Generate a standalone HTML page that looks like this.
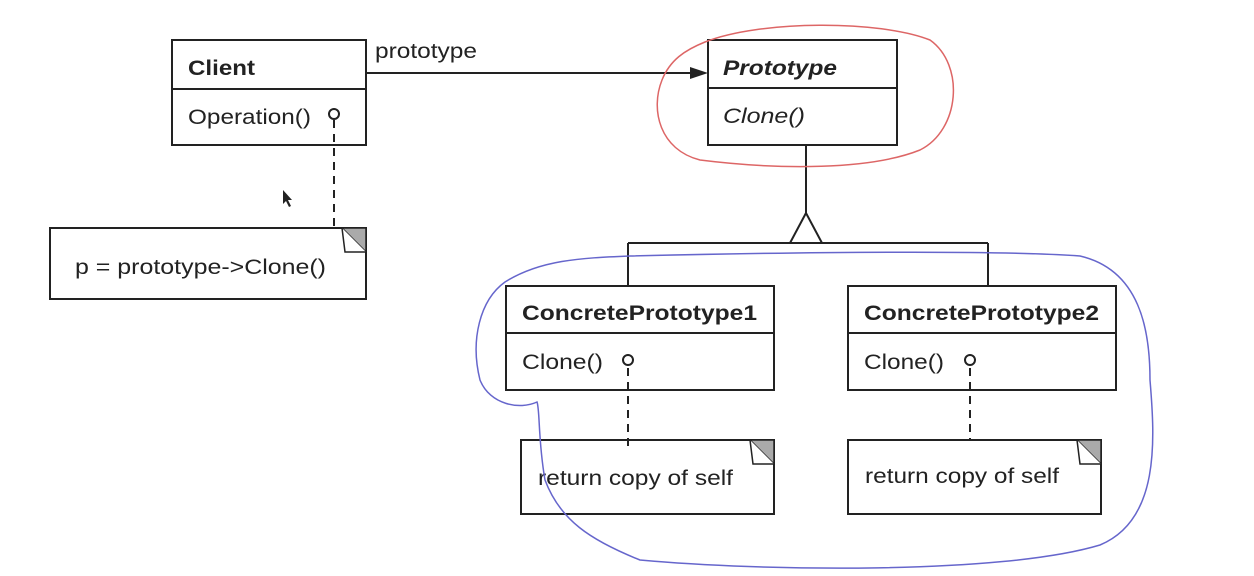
<!DOCTYPE html>
<html><head><style>
body{margin:0;background:#fff;}
svg text{font-family:"Liberation Sans",sans-serif;font-size:21px;fill:#222;}
</style></head><body>
<svg width="1254" height="571" viewBox="0 0 1254 571" xmlns="http://www.w3.org/2000/svg">
<g stroke="#222" stroke-width="2" fill="none">
<rect x="172" y="40" width="194" height="105"/><line x1="172" y1="89" x2="366" y2="89"/>
<rect x="708" y="40" width="189" height="105"/><line x1="708" y1="88" x2="897" y2="88"/>
<line x1="366" y1="73" x2="694" y2="73"/>
<line x1="334" y1="120" x2="334" y2="228" stroke-dasharray="8,6"/>
<rect x="50" y="228" width="316" height="71"/>
<line x1="806" y1="145" x2="806" y2="215"/>
<polygon points="806,213 790,243 822,243" fill="#fff"/>
<line x1="628" y1="243" x2="988" y2="243"/>
<line x1="628" y1="243" x2="628" y2="286"/>
<line x1="988" y1="243" x2="988" y2="286"/>
<rect x="506" y="286" width="268" height="104"/><line x1="506" y1="333" x2="774" y2="333"/>
<rect x="848" y="286" width="268" height="104"/><line x1="848" y1="333" x2="1116" y2="333"/>
<line x1="628" y1="368" x2="628" y2="450" stroke-dasharray="8,6"/>
<line x1="970" y1="368" x2="970" y2="440" stroke-dasharray="8,6"/>
<rect x="521" y="440" width="253" height="74"/>
<rect x="848" y="440" width="253" height="74"/>
</g>
<polygon points="690,67 708,73 690,79" fill="#222"/>
<g stroke="#222" stroke-width="2" fill="#fff">
<circle cx="334" cy="114" r="5"/><circle cx="628" cy="360" r="5"/><circle cx="970" cy="360" r="5"/>
</g>
<g stroke="#222" stroke-width="1.5">
<polygon points="342,228 366,228 366,252" fill="#aaa"/><polyline points="342,228 345,252 366,252" fill="#fff"/>
<polygon points="750,440 774,440 774,464" fill="#aaa"/><polyline points="750,440 753,464 774,464" fill="#fff"/>
<polygon points="1077,440 1101,440 1101,464" fill="#aaa"/><polyline points="1077,440 1080,464 1101,464" fill="#fff"/>
</g>
<g lengthAdjust="spacingAndGlyphs">
<text x="188" y="75" font-weight="bold" textLength="67" lengthAdjust="spacingAndGlyphs">Client</text>
<text x="188" y="124" textLength="123" lengthAdjust="spacingAndGlyphs">Operation()</text>
<text x="375" y="58" textLength="102" lengthAdjust="spacingAndGlyphs">prototype</text>
<text x="723" y="75" font-weight="bold" font-style="italic" textLength="114" lengthAdjust="spacingAndGlyphs">Prototype</text>
<text x="723" y="123" font-style="italic" textLength="82" lengthAdjust="spacingAndGlyphs">Clone()</text>
<text x="75" y="274" textLength="251" lengthAdjust="spacingAndGlyphs">p = prototype-&gt;Clone()</text>
<text x="522" y="320" font-weight="bold" textLength="235" lengthAdjust="spacingAndGlyphs">ConcretePrototype1</text>
<text x="522" y="369" textLength="81" lengthAdjust="spacingAndGlyphs">Clone()</text>
<text x="864" y="320" font-weight="bold" textLength="235" lengthAdjust="spacingAndGlyphs">ConcretePrototype2</text>
<text x="864" y="369" textLength="80" lengthAdjust="spacingAndGlyphs">Clone()</text>
<text x="538" y="485" textLength="195" lengthAdjust="spacingAndGlyphs">return copy of self</text>
<text x="865" y="483" textLength="194" lengthAdjust="spacingAndGlyphs">return copy of self</text>
</g>
<path d="M705,42 C760,20 880,20 930,40 C965,65 960,130 920,150 C870,170 780,170 700,160 C660,150 650,110 662,80 C670,60 685,50 705,42" stroke="#d66" stroke-width="1.5" fill="none"/>
<path d="M630,256 C800,252 1000,250 1080,256 C1140,270 1150,330 1150,380 C1155,440 1160,520 1100,545 C1000,575 760,571 640,560 C590,540 560,520 545,480 C538,440 540,410 537,402 C520,410 490,405 480,380 C470,340 480,300 505,282 C540,260 580,258 630,256" stroke="#66c" stroke-width="1.5" fill="none"/>
<path d="M283,190 l0,14 l3,-3 l3,6 l2,-1 l-3,-6 l4,0 z" fill="#222"/>
</svg>
</body></html>
